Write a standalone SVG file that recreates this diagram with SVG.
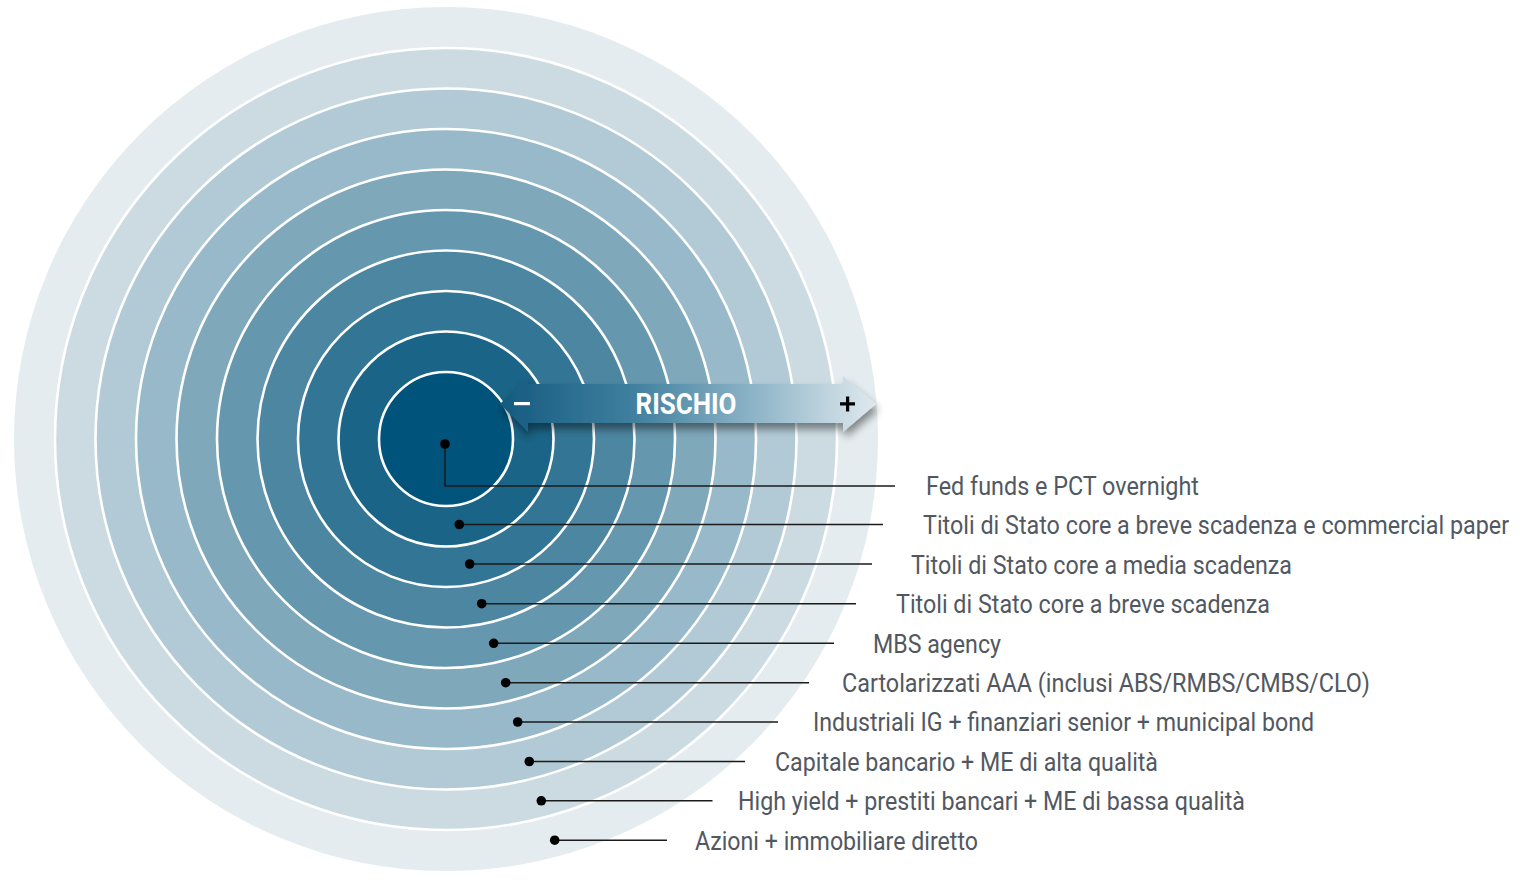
<svg xmlns="http://www.w3.org/2000/svg" width="1532" height="880" viewBox="0 0 1532 880">
  <defs>
    <style>
      .ring { stroke: #ffffff; stroke-width: 2.6; }
      .lbl { font-family: Roboto, "Liberation Sans", sans-serif; font-weight: 400; font-size: 25px; fill: #515861; }
      .conn { stroke: #1b1b1b; stroke-width: 1.5; fill: none; }
      .dot { fill: #000000; }
    </style>
    <linearGradient id="arrowGrad" x1="500" y1="0" x2="876" y2="0" gradientUnits="userSpaceOnUse">
      <stop offset="0" stop-color="#155a80"/>
      <stop offset="0.35" stop-color="#3f7f9e"/>
      <stop offset="0.7" stop-color="#94b8ca"/>
      <stop offset="1" stop-color="#dfe9ee"/>
    </linearGradient>
    <filter id="shadow" x="-10%" y="-40%" width="120%" height="200%">
      <feGaussianBlur in="SourceAlpha" stdDeviation="4"/>
      <feOffset dx="2" dy="6" result="b"/>
      <feComponentTransfer><feFuncA type="linear" slope="0.45"/></feComponentTransfer>
      <feMerge><feMergeNode/><feMergeNode in="SourceGraphic"/></feMerge>
    </filter>
  </defs>

  <g id="rings">
    <circle cx="446" cy="439" r="432" fill="#e4ecef"/>
    <circle class="ring" cx="446" cy="439" r="391" fill="#cbdbe1"/>
    <circle class="ring" cx="446" cy="439" r="350.5" fill="#b1cad5"/>
    <circle class="ring" cx="446" cy="439" r="310" fill="#98b9c9"/>
    <circle class="ring" cx="446" cy="439" r="269.5" fill="#7fa8bb"/>
    <circle class="ring" cx="446" cy="439" r="229" fill="#6597ae"/>
    <circle class="ring" cx="446" cy="439" r="188.5" fill="#4c86a1"/>
    <circle class="ring" cx="446" cy="439" r="148" fill="#337594"/>
    <circle class="ring" cx="446" cy="439" r="107.5" fill="#1a6487"/>
    <circle class="ring" cx="446" cy="439" r="67" fill="#00537a"/>
  </g>

  <g id="arrow">
    <path d="M500,404 L528,376 L528,384 L843,384 L843,376 L876,404 L843,432 L843,423 L528,423 L528,432 Z" fill="url(#arrowGrad)" filter="url(#shadow)"/>
    <rect x="514" y="402" width="16" height="3.2" fill="#ffffff"/>
    <path d="M840,402.2 L846,402.2 L846,396.5 L849.2,396.5 L849.2,402.2 L855,402.2 L855,405.6 L849.2,405.6 L849.2,411.5 L846,411.5 L846,405.6 L840,405.6 Z" fill="#000000"/>
    <text x="686" y="413.5" text-anchor="middle" font-family="Roboto, 'Liberation Sans', sans-serif" font-weight="700" font-size="29" fill="#ffffff" textLength="101" lengthAdjust="spacingAndGlyphs">RISCHIO</text>
  </g>

  <g id="connectors">
    <path class="conn" d="M445,444 L445,486 L895,486"/>
    <circle class="dot" cx="445" cy="444" r="4.8"/>
    <line class="conn" x1="459" y1="524.5" x2="883" y2="524.5"/>
    <circle class="dot" cx="459.3" cy="524.5" r="4.8"/>
    <line class="conn" x1="470" y1="564" x2="872" y2="564"/>
    <circle class="dot" cx="469.7" cy="564" r="4.8"/>
    <line class="conn" x1="482" y1="603.7" x2="856" y2="603.7"/>
    <circle class="dot" cx="481.7" cy="603.7" r="4.8"/>
    <line class="conn" x1="494" y1="643.3" x2="834" y2="643.3"/>
    <circle class="dot" cx="493.7" cy="643.3" r="4.8"/>
    <line class="conn" x1="506" y1="682.7" x2="809" y2="682.7"/>
    <circle class="dot" cx="505.7" cy="682.7" r="4.8"/>
    <line class="conn" x1="518" y1="722" x2="778" y2="722"/>
    <circle class="dot" cx="517.7" cy="722" r="4.8"/>
    <line class="conn" x1="529" y1="761.5" x2="745" y2="761.5"/>
    <circle class="dot" cx="529.3" cy="761.5" r="4.8"/>
    <line class="conn" x1="541" y1="800.8" x2="712.5" y2="800.8"/>
    <circle class="dot" cx="541.3" cy="800.8" r="4.8"/>
    <line class="conn" x1="555" y1="840.2" x2="667" y2="840.2"/>
    <circle class="dot" cx="554.7" cy="840.2" r="4.8"/>
  </g>

  <g id="item-1"><text class="lbl" x="926" y="495" textLength="273" lengthAdjust="spacingAndGlyphs">Fed funds e PCT overnight</text></g>
  <g id="item-2"><text class="lbl" transform="matrix(0.88 0 0 1 923 534)" x="0" y="0" textLength="666" lengthAdjust="spacingAndGlyphs">Titoli di Stato core a breve scadenza e commercial paper</text></g>
  <g id="item-3"><text class="lbl" x="911" y="573.5" textLength="381" lengthAdjust="spacingAndGlyphs">Titoli di Stato core a media scadenza</text></g>
  <g id="item-4"><text class="lbl" x="896" y="613" textLength="374" lengthAdjust="spacingAndGlyphs">Titoli di Stato core a breve scadenza</text></g>
  <g id="item-5"><text class="lbl" x="873" y="652.5" textLength="128" lengthAdjust="spacingAndGlyphs">MBS agency</text></g>
  <g id="item-6"><text class="lbl" x="842" y="692" textLength="528" lengthAdjust="spacingAndGlyphs">Cartolarizzati AAA (inclusi ABS/RMBS/CMBS/CLO)</text></g>
  <g id="item-7"><text class="lbl" x="813" y="731" textLength="501" lengthAdjust="spacingAndGlyphs">Industriali IG + finanziari senior + municipal bond</text></g>
  <g id="item-8"><text class="lbl" x="775" y="770.5" textLength="383" lengthAdjust="spacingAndGlyphs">Capitale bancario + ME di alta qualità</text></g>
  <g id="item-9"><text class="lbl" x="738" y="810" textLength="507" lengthAdjust="spacingAndGlyphs">High yield + prestiti bancari + ME di bassa qualità</text></g>
  <g id="item-10"><text class="lbl" x="695" y="849.5" textLength="283" lengthAdjust="spacingAndGlyphs">Azioni + immobiliare diretto</text></g>
</svg>
